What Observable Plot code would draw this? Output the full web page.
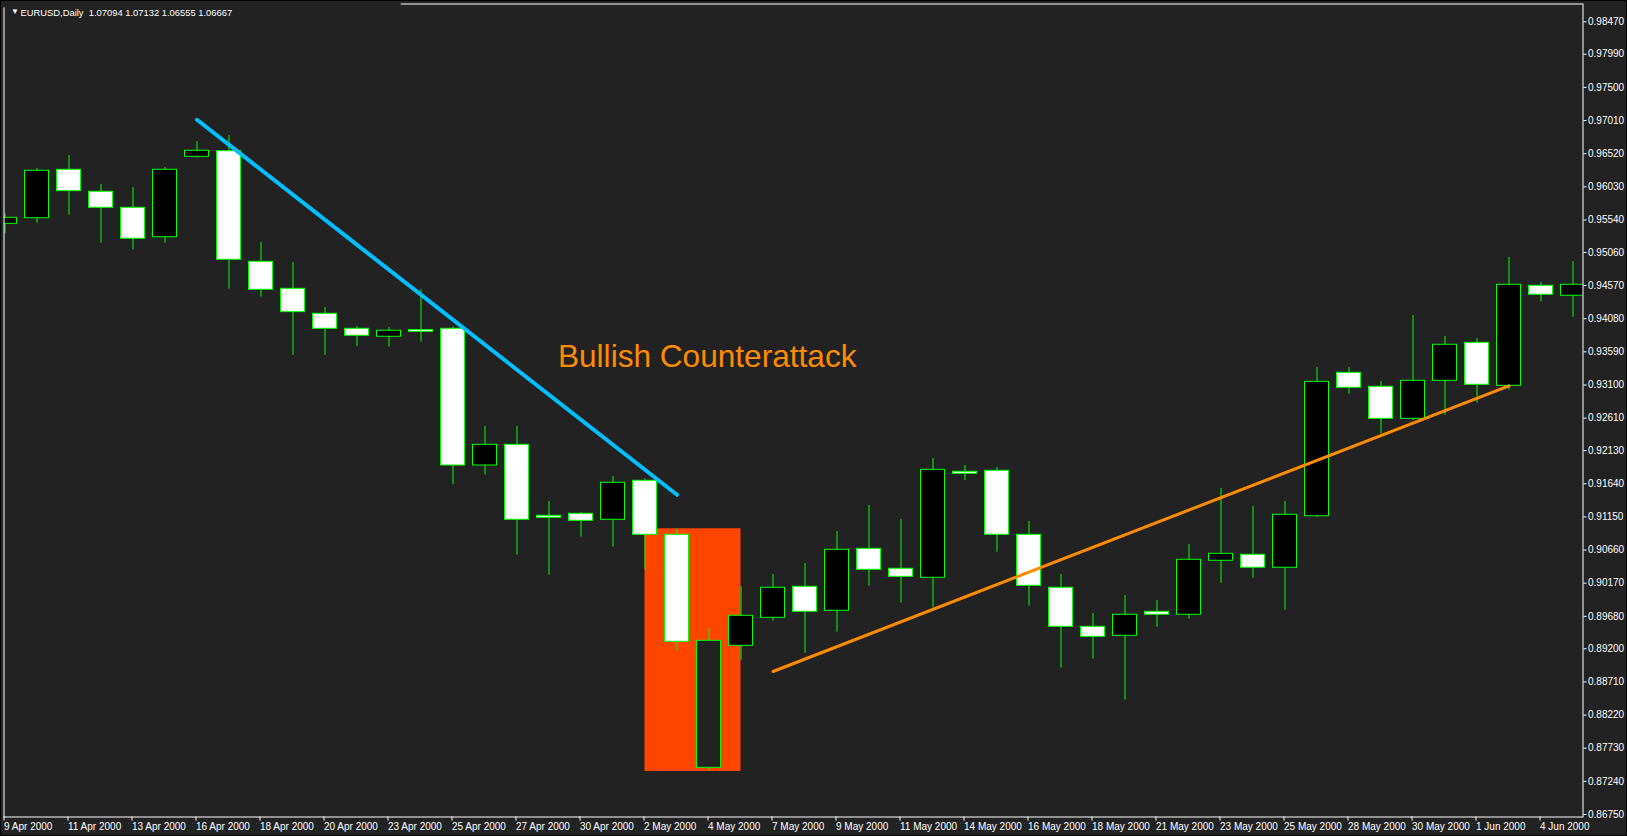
<!DOCTYPE html>
<html>
<head>
<meta charset="utf-8">
<script src="https://cdn.jsdelivr.net/npm/d3@7"></script>
<script src="https://cdn.jsdelivr.net/npm/@observablehq/plot@0.6"></script>
<style>
  html, body { margin: 0; padding: 0; background: #000; }
  #chart { width: 1627px; height: 836px; }
  #chart svg { display: block; outline: 1px solid #000; outline-offset: -1px; }
</style>
</head>
<body>
<div id="chart"></div>
<script>
// ---- Data ----
const symbolHeader = "EURUSD,Daily  1.07094 1.07132 1.06555 1.06667";

const dates = [
  "9 Apr 2000","10 Apr 2000","11 Apr 2000","12 Apr 2000","13 Apr 2000","14 Apr 2000",
  "16 Apr 2000","17 Apr 2000","18 Apr 2000","19 Apr 2000","20 Apr 2000","21 Apr 2000",
  "23 Apr 2000","24 Apr 2000","25 Apr 2000","26 Apr 2000","27 Apr 2000","28 Apr 2000",
  "30 Apr 2000","1 May 2000","2 May 2000","3 May 2000","4 May 2000","5 May 2000",
  "7 May 2000","8 May 2000","9 May 2000","10 May 2000","11 May 2000","12 May 2000",
  "14 May 2000","15 May 2000","16 May 2000","17 May 2000","18 May 2000","19 May 2000",
  "21 May 2000","22 May 2000","23 May 2000","24 May 2000","25 May 2000","26 May 2000",
  "28 May 2000","29 May 2000","30 May 2000","31 May 2000","1 Jun 2000","2 Jun 2000",
  "4 Jun 2000","5 Jun 2000"
];

const open = [
  0.95483,0.95566,0.96282,0.95957,0.95720,0.95285,0.96474,0.96557,0.94922,0.94522,
  0.94153,0.93931,0.93813,0.93913,0.93931,0.91910,0.92216,0.91166,0.91196,0.91107,
  0.91684,0.90885,0.87440,0.89244,0.89658,0.90117,0.89762,0.90678,0.90383,0.90250,
  0.91817,0.91832,0.90885,0.90102,0.89525,0.89392,0.89747,0.89703,0.90501,0.90590,
  0.90398,0.91160,0.93280,0.93074,0.92600,0.93162,0.93724,0.93088,0.94567,0.94419
];
const high = [
  0.95631,0.96301,0.96493,0.96065,0.96016,0.96316,0.96700,0.96789,0.95207,0.94911,
  0.94246,0.93965,0.93950,0.94508,0.93955,0.92487,0.92487,0.91378,0.91215,0.91747,
  0.91713,0.90974,0.89500,0.90121,0.90298,0.90461,0.90934,0.91319,0.91112,0.92013,
  0.91910,0.91880,0.91082,0.90298,0.89722,0.89988,0.89914,0.90742,0.91570,0.91304,
  0.91378,0.93359,0.93359,0.93152,0.94128,0.93817,0.93788,0.94985,0.94616,0.94926
];
const low = [
  0.95336,0.95492,0.95611,0.95197,0.95099,0.95197,0.96453,0.94517,0.94398,0.93536,
  0.93536,0.93669,0.93659,0.93733,0.91625,0.91772,0.90584,0.90288,0.90850,0.90702,
  0.90368,0.89160,0.87390,0.89031,0.89608,0.89135,0.89445,0.90125,0.89874,0.89806,
  0.91688,0.90628,0.89830,0.88913,0.89046,0.88440,0.89519,0.89637,0.90170,0.90244,
  0.89771,0.91141,0.92964,0.92379,0.92575,0.92654,0.92831,0.93023,0.94330,0.94103
];
const close = [
  0.95572,0.96267,0.95966,0.95720,0.95262,0.96282,0.96563,0.94951,0.94508,0.94177,
  0.93931,0.93828,0.93902,0.93887,0.91910,0.92216,0.91107,0.91137,0.91092,0.91654,
  0.90885,0.89303,0.89318,0.89688,0.90102,0.89747,0.90664,0.90368,0.90264,0.91846,
  0.91787,0.90885,0.90131,0.89525,0.89377,0.89703,0.89703,0.90516,0.90604,0.90398,
  0.91181,0.93147,0.93059,0.92600,0.93162,0.93695,0.93103,0.94582,0.94434,0.94582
];

const yTickLabels = [
  "0.98470","0.97990","0.97500","0.97010","0.96520","0.96030","0.95540","0.95060",
  "0.94570","0.94080","0.93590","0.93100","0.92610","0.92130","0.91640","0.91150",
  "0.90660","0.90170","0.89680","0.89200","0.88710","0.88220","0.87730","0.87240","0.86750"
];
const xTickLabels = [
  "9 Apr 2000","11 Apr 2000","13 Apr 2000","16 Apr 2000","18 Apr 2000","20 Apr 2000",
  "23 Apr 2000","25 Apr 2000","27 Apr 2000","30 Apr 2000","2 May 2000","4 May 2000",
  "7 May 2000","9 May 2000","11 May 2000","14 May 2000","16 May 2000","18 May 2000",
  "21 May 2000","23 May 2000","25 May 2000","28 May 2000","30 May 2000","1 Jun 2000","4 Jun 2000"
];

// Chart objects (time anchors as dates, prices)
const highlightStart = "2 May 2000", highlightEnd = "5 May 2000";
const highlightPrices = [0.87386, 0.90974];
const downTrendDates = ["16 Apr 2000", "3 May 2000"];
const downTrendPrices = [0.97021, 0.91477];
const upTrendDates = ["7 May 2000", "2 Jun 2000"];
const upTrendPrices = [0.88864, 0.93088];
const annotationText = "Bullish Counterattack";
const annotationAnchor = {date: "28 Apr 2000", offset: 0.28, price: 0.93510};

// ---- Build tables ----
const idx = d => dates.indexOf(d);
const rows = dates.map((d, i) => ({i, date: d, open: open[i], high: high[i], low: low[i], close: close[i]}));
const hl = [{x1: idx(highlightStart), x2: idx(highlightEnd), y1: highlightPrices[0], y2: highlightPrices[1]}];
const down = downTrendDates.map((d, k) => ({i: idx(d), price: downTrendPrices[k]}));
const up = upTrendDates.map((d, k) => ({i: idx(d), price: upTrendPrices[k]}));
const yTicks = yTickLabels.map(Number);
const xTicks = xTickLabels.map(idx);
const inHighlight = d => d.i > hl[0].x1 && d.i < hl[0].x2;

const GREEN = "#00FF00";
const FONT = "'Liberation Sans', Arial, sans-serif";
const chart = Plot.plot({
  width: 1627,
  height: 836,
  marginLeft: 3.5,
  marginRight: 44.5,
  marginTop: 3.5,
  marginBottom: 19.5,
  style: {background: "#222222", color: "#ffffff", fontFamily: FONT, fontSize: "10px"},
  x: {type: "linear", domain: [-0.03125, 49.3125]},
  y: {type: "linear", domain: [0.86713, 0.98733]},
  marks: [
    Plot.rect(hl, {x1: "x1", x2: "x2", y1: "y1", y2: "y2", fill: "#FF4500"}),
    Plot.ruleX(rows, {x: "i", y1: "low", y2: "high", stroke: GREEN, strokeWidth: 1, clip: true}),
    Plot.rect(rows, {
      x1: d => d.i - 0.375, x2: d => d.i + 0.375, y1: "open", y2: "close",
      fill: d => d.open > d.close ? "#ffffff" : (inHighlight(d) ? "#222222" : "#000000"),
      stroke: GREEN, strokeWidth: 1, clip: true, ariaLabel: "candles"
    }),
    Plot.line(down, {x: "i", y: "price", stroke: "#00BFFF", strokeWidth: 4, strokeLinecap: "round"}),
    Plot.line(up, {x: "i", y: "price", stroke: "#FF8C00", strokeWidth: 3, strokeLinecap: "round"}),
    Plot.text([annotationText], {
      x: () => idx(annotationAnchor.date) + annotationAnchor.offset, y: () => annotationAnchor.price,
      text: d => d, textAnchor: "start", lineAnchor: "middle",
      fill: "#FF8C00", fontSize: 31.6, fontFamily: FONT
    }),
    Plot.frame({stroke: "#ffffff"}),
    Plot.axisY(yTicks, {anchor: "right", tickFormat: d => d.toFixed(5), tickSize: 3, tickPadding: 2,
      stroke: "#ffffff", fill: "#ffffff", label: null, fontSize: 10}),
    Plot.axisX(xTicks, {anchor: "bottom", tickFormat: i => dates[i], tickSize: 4, tickPadding: 2,
      textAnchor: "start", dx: -1, stroke: "#ffffff", fill: "#ffffff", label: null, fontSize: 10}),
    // header box (covers the frame in the top-left corner, as in the terminal)
    Plot.rect([0], {frameAnchor: "top-left", x1: () => -0.03125, x2: () => 12.35, y1: () => 0.98733, y2: () => 0.98690, fill: "#222222", inset: -1}),
    Plot.text(["▼"], {frameAnchor: "top-left", dx: 7, dy: 4.5, text: d => d, textAnchor: "start", lineAnchor: "top", fontSize: 8, fill: "#ffffff"}),
    Plot.text([symbolHeader], {frameAnchor: "top-left", dx: 16.5, dy: 5, text: d => d, textAnchor: "start", lineAnchor: "top", fontSize: 9.4, fill: "#ffffff", fontFamily: FONT})
  ]
});

// snap candle bodies to whole pixels so thin bodies keep their white/black core
chart.querySelectorAll('g[aria-label="candles"] rect').forEach(r => {
  const y = +r.getAttribute("y"), h = +r.getAttribute("height");
  const y0 = Math.round(y - 0.5) + 0.5;
  const y1 = Math.max(y0 + 2, Math.round(y + h - 0.5) + 0.5);
  r.setAttribute("y", y0);
  r.setAttribute("height", y1 - y0);
});
document.getElementById("chart").appendChild(chart);
</script>
</body>
</html>
